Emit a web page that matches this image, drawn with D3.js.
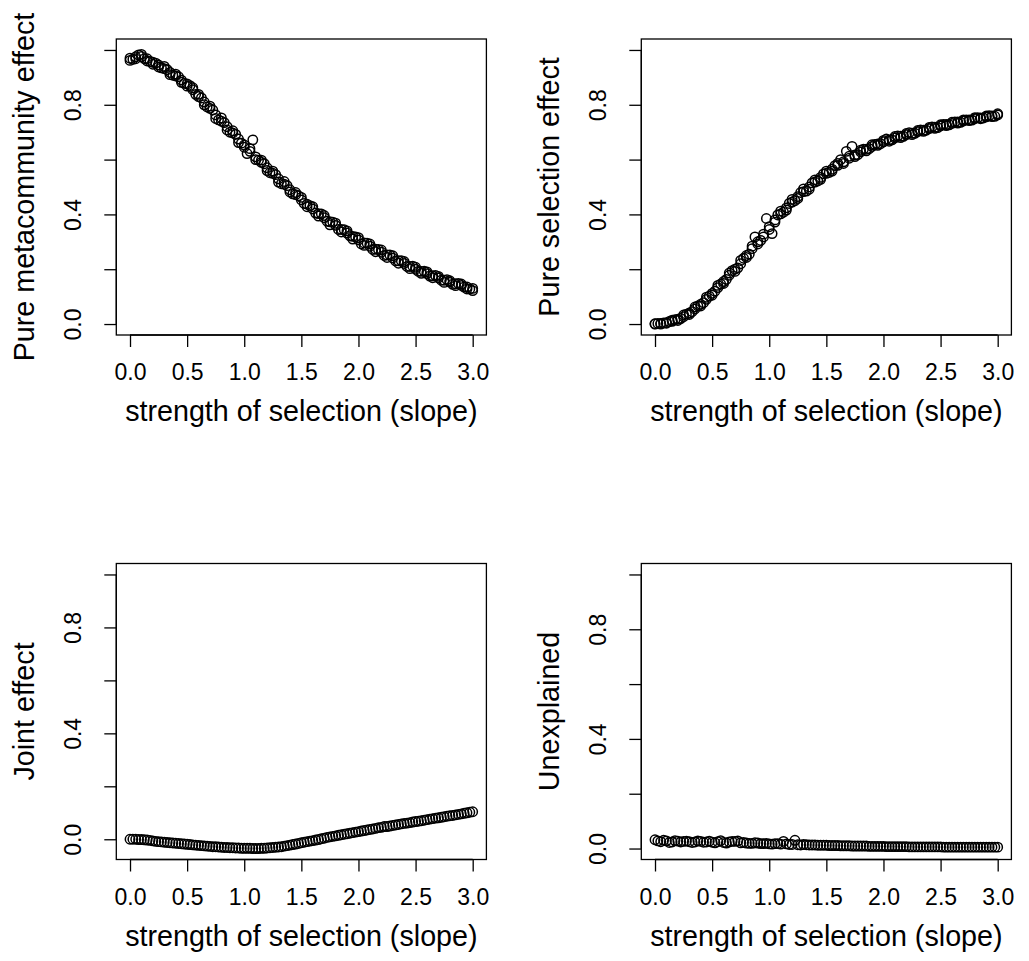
<!DOCTYPE html>
<html>
<head>
<meta charset="utf-8">
<script src="https://cdn.jsdelivr.net/npm/d3@7"></script>
<style>
  body { margin: 0; background: #fff; }
  svg text { font-family: "Liberation Sans", Arial, sans-serif; fill: #000; }
</style>
</head>
<body>
<svg id="chart" width="1029" height="961"></svg>
<script>
// runs on two slope grids (grid B sits half way between the slopes of grid A)
var slopeA = [0.00,0.05,0.10,0.15,0.20,0.25,0.30,0.35,0.40,0.45,0.50,0.55,0.60,0.65,0.70,0.75,0.80,0.85,0.90,0.95,
  1.00,1.05,1.10,1.15,1.20,1.25,1.30,1.35,1.40,1.45,1.50,1.55,1.60,1.65,1.70,1.75,1.80,1.85,1.90,1.95,
  2.00,2.05,2.10,2.15,2.20,2.25,2.30,2.35,2.40,2.45,2.50,2.55,2.60,2.65,2.70,2.75,2.80,2.85,2.90,2.95,3.00];
var slopeB = [0.025,0.075,0.125,0.175,0.225,0.275,0.325,0.375,0.425,0.475,0.525,0.575,0.625,0.675,0.725,0.775,0.825,0.875,0.925,0.975,
  1.025,1.075,1.125,1.175,1.225,1.275,1.325,1.375,1.425,1.475,1.525,1.575,1.625,1.675,1.725,1.775,1.825,1.875,1.925,1.975,
  2.025,2.075,2.125,2.175,2.225,2.275,2.325,2.375,2.425,2.475,2.525,2.575,2.625,2.675,2.725,2.775,2.825,2.875,2.925,2.975];

var metaA = [0.970,0.975,0.976,0.968,0.955,0.945,0.932,0.918,0.905,0.890,0.876,0.855,0.830,0.810,0.787,0.763,0.740,0.720,0.697,0.675,
  0.653,0.630,0.610,0.590,0.570,0.550,0.530,0.510,0.490,0.472,0.453,0.437,0.420,0.403,0.388,0.373,0.360,0.345,0.332,0.320,
  0.307,0.296,0.284,0.273,0.262,0.252,0.241,0.231,0.221,0.210,0.200,0.192,0.184,0.176,0.168,0.160,0.153,0.147,0.141,0.135,0.130];
var metaB = [0.966,0.982,0.968,0.958,0.952,0.935,0.928,0.908,0.902,0.878,0.870,0.838,0.825,0.792,0.781,0.745,0.735,0.700,0.692,0.660,
  0.622,0.672,0.598,0.585,0.552,0.545,0.512,0.505,0.475,0.468,0.440,0.432,0.405,0.402,0.375,0.372,0.345,0.344,0.322,0.318,
  0.292,0.295,0.272,0.272,0.250,0.252,0.230,0.231,0.210,0.211,0.192,0.193,0.175,0.177,0.160,0.162,0.145,0.148,0.135,0.128];
var metaC = [0.962,0.968,0.984,0.960,0.948,0.938,0.940,0.910,0.912,0.882,0.868,0.862,0.838,0.800,0.795,0.750,0.752,0.708,0.705,0.662,
  0.645,0.640,0.600,0.598,0.560,0.558,0.518,0.520,0.482,0.480,0.462,0.428,0.428,0.394,0.396,0.362,0.368,0.336,0.340,0.310,
  0.315,0.287,0.292,0.264,0.270,0.243,0.249,0.222,0.228,0.202,0.207,0.185,0.190,0.169,0.174,0.152,0.158,0.140,0.146,0.128,0.122];

var selA = [0.000,0.002,0.005,0.010,0.018,0.027,0.040,0.055,0.072,0.090,0.112,0.133,0.155,0.178,0.200,0.220,0.250,0.275,0.300,0.328,
  0.355,0.380,0.402,0.424,0.445,0.465,0.483,0.500,0.518,0.535,0.550,0.565,0.579,0.592,0.605,0.617,0.628,0.638,0.648,0.657,
  0.665,0.672,0.679,0.685,0.691,0.696,0.702,0.707,0.713,0.718,0.723,0.728,0.732,0.737,0.741,0.745,0.749,0.752,0.756,0.759,0.763];
var selB = [0.002,0.004,0.009,0.016,0.020,0.036,0.045,0.066,0.078,0.102,0.120,0.146,0.163,0.195,0.205,0.240,0.255,0.318,0.305,0.385,
  0.330,0.398,0.408,0.440,0.450,0.480,0.485,0.515,0.522,0.548,0.553,0.578,0.600,0.630,0.648,0.618,0.638,0.640,0.655,0.658,
  0.675,0.672,0.686,0.685,0.698,0.696,0.708,0.707,0.719,0.717,0.728,0.727,0.737,0.736,0.745,0.744,0.753,0.752,0.760,0.758];
var selC = [0.001,0.000,0.003,0.014,0.013,0.033,0.035,0.062,0.066,0.098,0.105,0.141,0.148,0.186,0.192,0.232,0.243,0.284,0.292,0.318,
  0.345,0.372,0.412,0.416,0.455,0.458,0.493,0.492,0.526,0.528,0.558,0.558,0.586,0.586,0.612,0.611,0.634,0.632,0.654,0.652,
  0.670,0.667,0.684,0.680,0.695,0.691,0.706,0.703,0.717,0.714,0.727,0.724,0.736,0.733,0.745,0.742,0.753,0.749,0.759,0.757,0.767];

var jointA = [0.000,0.000,-0.001,-0.003,-0.006,-0.009,-0.011,-0.013,-0.015,-0.017,-0.019,-0.021,-0.023,-0.025,-0.027,-0.028,-0.030,-0.031,-0.032,-0.033,
  -0.034,-0.034,-0.035,-0.034,-0.033,-0.031,-0.029,-0.026,-0.022,-0.018,-0.013,-0.009,-0.005,-0.001,0.004,0.009,0.013,0.017,0.021,0.025,
  0.029,0.033,0.037,0.041,0.045,0.048,0.052,0.056,0.060,0.063,0.067,0.070,0.074,0.078,0.081,0.085,0.089,0.092,0.096,0.100,0.104];
var jointB = [0.000,-0.001,-0.002,-0.004,-0.008,-0.010,-0.012,-0.014,-0.016,-0.018,-0.020,-0.022,-0.024,-0.026,-0.028,-0.029,-0.031,-0.032,-0.033,-0.034,
  -0.034,-0.035,-0.035,-0.034,-0.032,-0.030,-0.028,-0.024,-0.020,-0.016,-0.011,-0.007,-0.003,0.002,0.007,0.011,0.015,0.019,0.023,0.027,
  0.031,0.035,0.039,0.044,0.048,0.050,0.054,0.058,0.061,0.065,0.068,0.072,0.076,0.080,0.083,0.087,0.090,0.094,0.098,0.102];

var unexpA = [0.032,0.025,0.028,0.024,0.027,0.026,0.025,0.024,0.026,0.024,0.023,0.025,0.022,0.024,0.026,0.021,0.020,0.019,0.020,0.018,
  0.017,0.018,0.016,0.017,0.015,0.014,0.015,0.013,0.013,0.012,0.012,0.011,0.011,0.010,0.010,0.009,0.009,0.009,0.008,0.008,
  0.008,0.007,0.007,0.007,0.007,0.006,0.006,0.006,0.006,0.006,0.006,0.005,0.005,0.005,0.005,0.005,0.005,0.005,0.005,0.005,0.005];
var unexpB = [0.028,0.030,0.022,0.029,0.024,0.027,0.022,0.028,0.023,0.027,0.021,0.029,0.020,0.026,0.028,0.022,0.019,0.021,0.018,0.019,
  0.016,0.018,0.026,0.015,0.030,0.013,0.014,0.013,0.012,0.012,0.011,0.011,0.010,0.010,0.009,0.009,0.009,0.008,0.008,0.008,
  0.007,0.007,0.007,0.007,0.006,0.006,0.006,0.006,0.006,0.006,0.005,0.005,0.005,0.005,0.005,0.005,0.005,0.005,0.005,0.005];

var xTicks = [0, 0.5, 1, 1.5, 2, 2.5, 3];
var yTicks = [0, 0.2, 0.4, 0.6, 0.8, 1.0];
var yLabelled = [0, 0.4, 0.8];
var xTitle = "strength of selection (slope)";

var panels = [
  {ylab: "Pure metacommunity effect", runs: [[slopeA, metaA], [slopeB, metaB], [slopeA, metaC]], col: 0, row: 0},
  {ylab: "Pure selection effect", runs: [[slopeA, selA], [slopeB, selB], [slopeA, selC]], col: 1, row: 0},
  {ylab: "Joint effect", runs: [[slopeA, jointA], [slopeB, jointB]], col: 0, row: 1},
  {ylab: "Unexplained", runs: [[slopeA, unexpA], [slopeB, unexpB]], col: 1, row: 1}
];

var svg = d3.select("#chart");
var colLeft = [116.3, 641.3], rowTop = [39, 563.5];
var pw = 370.1, ph = 296;

// R style 4% axis expansion
function expand(dom) {
  var d = (dom[1] - dom[0]) * 0.04;
  return [dom[0] - d, dom[1] + d];
}

panels.forEach(function(p) {
  var left = colLeft[p.col], top = rowTop[p.row];
  var g = svg.append("g").attr("transform", "translate(" + left + "," + top + ")");

  var ymin = Math.min(0, d3.min(p.runs, function(r) { return d3.min(r[1]); }));

  var x = d3.scaleLinear().domain(expand([0, 3])).range([0, pw]);
  var y = d3.scaleLinear().domain(expand([ymin, 1])).range([ph, 0]);

  // x axis
  var xa = g.append("g").attr("transform", "translate(0," + ph + ")")
    .call(d3.axisBottom(x).tickValues(xTicks).tickSize(12).tickFormat(d3.format(".1f")));
  xa.select(".domain").remove();
  xa.selectAll("line").attr("stroke", "#000").attr("stroke-width", 1.3);
  xa.selectAll("text").attr("y", 45).attr("dy", 0).attr("font-size", 23);
  xa.append("line")
    .attr("x1", x(0)).attr("x2", x(3))
    .attr("stroke", "#000").attr("stroke-width", 1.3);

  // y axis, only every other tick labelled like R does when labels collide
  var ya = g.append("g")
    .call(d3.axisLeft(y).tickValues(yTicks).tickSize(12)
      .tickFormat(function(d) { return yLabelled.indexOf(d) >= 0 ? d3.format(".1f")(d) : ""; }));
  ya.select(".domain").remove();
  ya.selectAll("line").attr("stroke", "#000").attr("stroke-width", 1.3);
  ya.selectAll("text")
    .attr("x", 0).attr("y", -35.8).attr("dy", 0)
    .attr("text-anchor", "middle")
    .attr("transform", "rotate(-90)")
    .attr("font-size", 23);
  ya.append("line")
    .attr("y1", y(0)).attr("y2", y(1))
    .attr("stroke", "#000").attr("stroke-width", 1.3);

  // points
  p.runs.forEach(function(run) {
    var xs = run[0];
    g.append("g").selectAll("circle")
      .data(run[1])
      .enter().append("circle")
        .attr("cx", function(d, i) { return x(xs[i]); })
        .attr("cy", function(d) { return y(d); })
        .attr("r", 4.7)
        .attr("fill", "none")
        .attr("stroke", "#000")
        .attr("stroke-width", 1.5);
  });

  // box
  g.append("rect")
    .attr("width", pw).attr("height", ph)
    .attr("fill", "none").attr("stroke", "#000").attr("stroke-width", 1.3);

  // titles
  g.append("text")
    .attr("x", pw / 2).attr("y", ph + 86)
    .attr("text-anchor", "middle")
    .attr("font-size", 28.7)
    .text(xTitle);

  g.append("text")
    .attr("transform", "rotate(-90)")
    .attr("x", -ph / 2).attr("y", -82)
    .attr("text-anchor", "middle")
    .attr("font-size", 28.7)
    .text(p.ylab);
});
</script>
</body>
</html>
